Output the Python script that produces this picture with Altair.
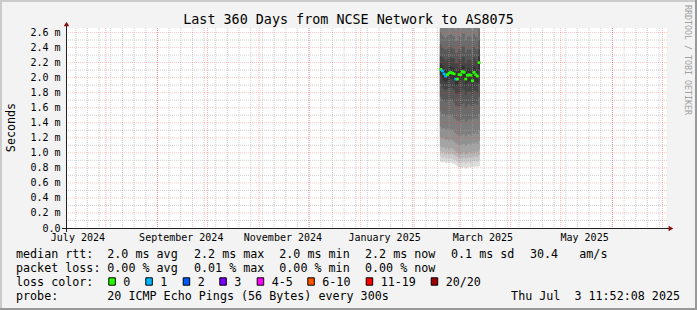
import altair as alt
import pandas as pd

MONO = "DejaVu Sans Mono"
X0, Y0 = 67, 28          # plot origin in the page
W, H = 600, 200

# ---------------- data ----------------
title_text = "Last 360 Days from NCSE Network to AS8075"

# daily RRD steps (the last edge closes the last step)
step_edges = [
    "2025-02-17T12:00", "2025-02-18T12:00", "2025-02-19T12:00", "2025-02-20T12:00",
    "2025-02-21T12:00", "2025-02-22T12:00", "2025-02-23T12:00", "2025-02-24T12:00",
    "2025-02-25T12:00", "2025-02-26T12:00", "2025-02-27T12:00", "2025-02-28T12:00",
    "2025-03-01T12:00", "2025-03-02T12:00", "2025-03-03T12:00", "2025-03-04T12:00",
    "2025-03-05T12:00", "2025-03-06T12:00", "2025-03-07T12:00", "2025-03-08T12:00",
    "2025-03-09T12:00", "2025-03-10T12:00", "2025-03-11T12:00", "2025-03-12T12:00",
    "2025-03-13T12:00",
]

# median rtt (ms) and lost pings per step
median_rtt = [2.11, 2.09, 2.05, 2.02, 2.04, 2.06, 2.07, 2.06, 2.05, 1.98, 1.98, 2.04,
              2.04, 2.08, 2.07, 1.98, 2.03, 2.04, 2.03, 1.96, 2.07, 2.04, 2.02, 2.20]
loss_count = [0, 1, 1, 1, 0, 0, 0, 0, 0, 1, 0, 0,
              0, 0, 0, 0, 0, 0, 0, 0, 0, 0, 0, 0]

# smoke: sorted pings (ms). lower pings 1..10
ping_01 = [0.88, 0.87, 0.88, 0.86, 0.87, 0.86, 0.87, 0.86, 0.85, 0.84, 0.82, 0.81,
           0.80, 0.80, 0.81, 0.79, 0.80, 0.81, 0.80, 0.82, 0.81, 0.82, 0.81, 0.82]
ping_02 = [0.95, 0.93, 0.94, 0.92, 0.93, 0.92, 0.93, 0.92, 0.91, 0.90, 0.88, 0.87,
           0.86, 0.87, 0.88, 0.86, 0.87, 0.88, 0.86, 0.89, 0.88, 0.89, 0.88, 0.90]
ping_03 = [1.02, 1.00, 1.01, 0.98, 1.00, 0.98, 0.99, 0.99, 0.97, 0.96, 0.94, 0.93,
           0.92, 0.93, 0.94, 0.92, 0.93, 0.94, 0.93, 0.95, 0.94, 0.95, 0.94, 0.97]
ping_04 = [1.09, 1.07, 1.08, 1.05, 1.07, 1.04, 1.06, 1.06, 1.04, 1.02, 1.00, 0.99,
           0.98, 0.99, 1.01, 0.98, 0.99, 1.01, 0.99, 1.02, 1.00, 1.02, 1.01, 1.04]
ping_05 = [1.21, 1.19, 1.20, 1.17, 1.18, 1.16, 1.18, 1.17, 1.15, 1.13, 1.11, 1.10,
           1.09, 1.11, 1.12, 1.09, 1.11, 1.12, 1.10, 1.13, 1.12, 1.14, 1.12, 1.16]
ping_06 = [1.35, 1.32, 1.33, 1.30, 1.32, 1.29, 1.31, 1.30, 1.28, 1.26, 1.24, 1.23,
           1.22, 1.24, 1.25, 1.22, 1.24, 1.25, 1.23, 1.26, 1.25, 1.27, 1.25, 1.30]
ping_07 = [1.55, 1.52, 1.52, 1.49, 1.51, 1.49, 1.51, 1.50, 1.47, 1.45, 1.43, 1.42,
           1.41, 1.44, 1.45, 1.41, 1.43, 1.45, 1.43, 1.45, 1.45, 1.47, 1.45, 1.52]
ping_08 = [1.75, 1.71, 1.70, 1.68, 1.70, 1.69, 1.71, 1.70, 1.67, 1.63, 1.62, 1.62,
           1.61, 1.65, 1.66, 1.60, 1.63, 1.65, 1.63, 1.62, 1.65, 1.66, 1.64, 1.74]
ping_09 = [1.92, 1.87, 1.85, 1.83, 1.85, 1.86, 1.87, 1.86, 1.84, 1.79, 1.78, 1.80,
           1.80, 1.84, 1.84, 1.77, 1.81, 1.82, 1.81, 1.77, 1.83, 1.82, 1.80, 1.92]
ping_10 = [2.03, 1.99, 1.96, 1.94, 1.96, 1.98, 1.99, 1.98, 1.96, 1.90, 1.90, 1.95,
           1.95, 1.99, 1.98, 1.90, 1.94, 1.95, 1.94, 1.88, 1.98, 1.95, 1.93, 2.10]
# upper pings 11..20
ping_11 = [2.19, 2.16, 2.13, 2.10, 2.12, 2.14, 2.15, 2.14, 2.13, 2.07, 2.07, 2.12,
           2.12, 2.16, 2.15, 2.07, 2.11, 2.12, 2.11, 2.05, 2.15, 2.12, 2.10, 2.28]
ping_12 = [2.30, 2.27, 2.25, 2.22, 2.24, 2.26, 2.27, 2.26, 2.25, 2.19, 2.19, 2.24,
           2.24, 2.28, 2.27, 2.19, 2.23, 2.24, 2.23, 2.17, 2.27, 2.24, 2.22, 2.38]
ping_13 = [2.44, 2.40, 2.38, 2.36, 2.38, 2.40, 2.41, 2.39, 2.38, 2.33, 2.33, 2.38,
           2.37, 2.42, 2.41, 2.33, 2.37, 2.38, 2.37, 2.31, 2.41, 2.38, 2.36, 2.50]
ping_14 = [2.60, 2.56, 2.54, 2.52, 2.55, 2.57, 2.58, 2.56, 2.55, 2.49, 2.50, 2.55,
           2.54, 2.59, 2.58, 2.50, 2.54, 2.55, 2.54, 2.48, 2.58, 2.55, 2.53, 2.64]
ping_15 = [2.80, 2.75, 2.71, 2.68, 2.72, 2.75, 2.78, 2.74, 2.72, 2.64, 2.66, 2.73,
           2.70, 2.78, 2.76, 2.65, 2.71, 2.72, 2.70, 2.63, 2.77, 2.73, 2.69, 2.85]
ping_16_20 = [3.10, 3.05, 3.00, 2.98, 3.02, 3.05, 3.08, 3.04, 3.02, 2.95, 2.96, 3.03,
              3.00, 3.08, 3.06, 2.95, 3.01, 3.02, 3.00, 2.93, 3.07, 3.03, 2.99, 3.15]

# axis / grid
y_major = [0.0, 0.2, 0.4, 0.6, 0.8, 1.0, 1.2, 1.4, 1.6, 1.8, 2.0, 2.2, 2.4, 2.6]
y_minor = [0.1, 0.3, 0.5, 0.7, 0.9, 1.1, 1.3, 1.5, 1.7, 1.9, 2.1, 2.3, 2.5]
month_starts = ["2024-08-01", "2024-09-01", "2024-10-01", "2024-11-01", "2024-12-01",
                "2025-01-01", "2025-02-01", "2025-03-01", "2025-04-01", "2025-05-01",
                "2025-06-01", "2025-07-01"]
week_starts = pd.date_range("2024-07-14", "2025-07-03", freq="7D")
label_months = [(2024, 7), (2024, 9), (2024, 11), (2025, 1), (2025, 3), (2025, 5)]

loss_labels = ["0", "1", "2", "3", "4-5", "6-10", "11-19", "20/20"]
loss_colors = ["#26ff00", "#00b8ff", "#0059ff", "#7e00ff", "#ff00ff", "#ff5500", "#ff0000", "#a00000"]
loss_box_x = [108.3, 145.3, 182.7, 219.3, 256.7, 307.3, 365.7, 430.7]

# ---------------- scales / axes ----------------
xs = alt.Scale(domain=[alt.DateTime(year=2024, month=7, date=8, hours=18),
                       alt.DateTime(year=2025, month=7, date=3, hours=18)], nice=False)
ys = alt.Scale(domain=[0, 2.66], nice=False, zero=False, clamp=True)

x_axis = alt.Axis(values=[alt.DateTime(year=y, month=m, date=15) for y, m in label_months],
                  labelExpr="timeFormat(datum.value, '%B %Y')", labelFont=MONO, labelFontSize=10,
                  labelColor="#000000", labelBaseline="alphabetic", labelPadding=12.6,
                  ticks=False, tickSize=0, domain=False, grid=False, title=None,
                  labelOverlap=False, labelFlush=False)
y_axis = alt.Axis(values=y_major,
                  labelExpr="datum.value == 0 ? '0.0' : format(datum.value, '.1f') + ' m'",
                  labelFont=MONO, labelFontSize=10, labelColor="#000000", labelPadding=7,
                  ticks=False, tickSize=0, domain=False, grid=False, title=None,
                  labelOverlap=False, labelFlush=False)


def X(field):
    return alt.X(field, type="temporal", scale=xs, axis=x_axis)


def Y(field):
    return alt.Y(field, type="quantitative", scale=ys, axis=y_axis)


layers = []

# ---------------- smoke ----------------
lower = [ping_01, ping_02, ping_03, ping_04, ping_05, ping_06, ping_07, ping_08, ping_09, ping_10]
upper = [ping_16_20, ping_16_20, ping_16_20, ping_16_20, ping_16_20,
         ping_15, ping_14, ping_13, ping_12, ping_11]
greys = ["#dddddd", "#cacaca", "#b7b7b7", "#a4a4a4", "#919191",
         "#7e7e7e", "#6b6b6b", "#585858", "#454545", "#323232"]
edges = pd.to_datetime(step_edges)
for lo, hi, g in zip(lower, upper, greys):
    df = pd.DataFrame({"t": edges, "lo": lo + [lo[-1]], "hi": hi + [hi[-1]]})
    layers.append(
        alt.Chart(df).mark_area(interpolate="step-after", color=g, opacity=1)
        .encode(x=X("t"), y=Y("lo"), y2=alt.Y2("hi"))
    )

# ---------------- grid (drawn over the smoke, like rrdtool) ----------------
layers.append(alt.Chart(pd.DataFrame({"v": y_minor})).mark_rule(
    color="#a8a8a8", opacity=0.55, strokeDash=[1, 1], strokeWidth=1).encode(y=Y("v")))
layers.append(alt.Chart(pd.DataFrame({"t": week_starts})).mark_rule(
    color="#a8a8a8", opacity=0.55, strokeDash=[1, 1], strokeWidth=1).encode(x=X("t")))
layers.append(alt.Chart(pd.DataFrame({"v": y_major[1:]})).mark_rule(
    color="#ff3030", opacity=0.28, strokeDash=[1, 1], strokeWidth=1).encode(y=Y("v")))
layers.append(alt.Chart(pd.DataFrame({"t": pd.to_datetime(month_starts)})).mark_rule(
    color="#ff3030", opacity=0.38, strokeDash=[1, 1], strokeWidth=1).encode(x=X("t")))

# ---------------- median ----------------
med_df = pd.DataFrame({"t": edges[:-1], "rtt": median_rtt, "loss": [str(v) for v in loss_count]})
layers.append(
    alt.Chart(med_df).mark_tick(orient="horizontal", size=3, thickness=2.6, xOffset=0.83, opacity=1)
    .encode(x=X("t"), y=Y("rtt"),
            color=alt.Color("loss:N", scale=alt.Scale(domain=["0", "1"], range=["#26ff00", "#00b8ff"]),
                            legend=None))
)

# ---------------- frame, axes lines, arrows ----------------
one = pd.DataFrame({"k": [0]})


def px(x):
    return alt.value(x - X0)


def py(y):
    return alt.value(y - Y0)


def rect(x1, x2, y1, y2, fill, stroke=None):
    kw = dict(color=fill)
    if stroke:
        kw.update(stroke=stroke, strokeWidth=1)
    return alt.Chart(one).mark_rect(**kw).encode(x=px(x1), x2=px(x2), y=py(y1), y2=py(y2))


# 3D border of the canvas
layers.append(rect(0, 697, 0, 2, "#cbcbcb"))
layers.append(rect(0, 2, 0, 310, "#cbcbcb"))
layers.append(rect(0, 697, 308, 310, "#999999"))
layers.append(rect(695, 697, 0, 310, "#999999"))

# axis lines
layers.append(alt.Chart(one).mark_rule(color="#202020", strokeWidth=1)
              .encode(x=px(62), x2=px(670), y=py(228.5)))
layers.append(alt.Chart(one).mark_rule(color="#202020", strokeWidth=1)
              .encode(x=px(66.5), y=py(232), y2=py(25)))
layers.append(alt.Chart(one).mark_point(shape="triangle-up", filled=True, size=30, color="#8b1010", opacity=1)
              .encode(x=px(66.5), y=py(24)))
layers.append(alt.Chart(one).mark_point(shape="triangle-right", filled=True, size=30, color="#8b1010", opacity=1)
              .encode(x=px(671), y=py(228.5)))


def label(text, x, y, size=11.7, align="left", angle=0, color="#000000"):
    return alt.Chart(one).mark_text(text=text, font=MONO, fontSize=size, align=align,
                                    baseline="alphabetic", angle=angle, color=color).encode(x=px(x), y=py(y))


NB = "\u00a0"
layers.append(label(title_text, 348.5, 24, size=13.4, align="center"))
layers.append(label("Seconds", 15, 127.5, angle=270, align="center"))
layers.append(label("RRDTOOL / TOBI OETIKER", 685, 60, size=8.3, angle=90, align="center", color="#a0a0a0"))

# legend rows
row_y = [258, 272, 286, 300]
layers.append(label("median rtt:", 16, row_y[0]))
for s, x in zip(["2.0 ms avg", "2.2 ms max", "2.0 ms min", "2.2 ms now", "0.1 ms sd", "30.4", "am/s"],
                [107.3, 194, 279.3, 365, 451, 530, 579.3]):
    layers.append(label(s, x, row_y[0]))
layers.append(label("packet loss:", 16, row_y[1]))
for s, x in zip(["0.00 % avg", "0.01 % max", "0.00 % min", "0.00 % now"], [107.3, 194, 279.3, 365]):
    layers.append(label(s, x, row_y[1]))
layers.append(label("loss color:", 16, row_y[2]))
for s, c, bx in zip(loss_labels, loss_colors, loss_box_x):
    layers.append(rect(bx + 0.5, bx + 7.0, 277.8, 285.2, c, stroke="#000000"))
    layers.append(label(s, bx + 15, row_y[2]))
layers.append(label("probe:", 16, row_y[3]))
layers.append(label("20 ICMP Echo Pings (56 Bytes) every 300s", 107.3, row_y[3]))
layers.append(label("Thu Jul" + NB + NB + "3 11:52:08 2025", 680, row_y[3], align="right"))

chart = alt.layer(*layers).properties(
    width=W, height=H, background="#f3f3f3",
    padding={"left": X0, "top": Y0, "right": 697 - X0 - W, "bottom": 310 - Y0 - H},
    autosize=alt.AutoSizeParams(type="none"),
).configure_view(stroke=None, fill="#ffffff")

chart.save("out.html", embed_options={"renderer": "svg", "actions": False})
